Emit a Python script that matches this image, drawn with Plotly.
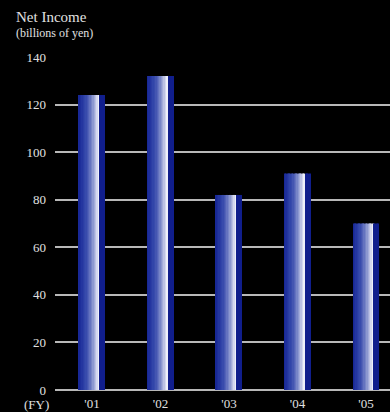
import plotly.graph_objects as go

years = ["'01", "'02", "'03", "'04", "'05"]
net_income = [124, 132, 82, 91, 70]
y_ticks = [0, 20, 40, 60, 80, 100, 120, 140]

xpos = list(range(len(years)))
W = 0.38
N = 19

def lerp(a, b, t):
    return tuple(round(a[k] + (b[k] - a[k]) * t) for k in range(3))

dark = (24, 40, 150)
mid = (50, 70, 170)
white = (238, 240, 250)
strip = (16, 30, 140)

colors = []
grad_n = 15
for i in range(N):
    if i < grad_n:
        t = i / (grad_n - 1)
        if t < 0.3:
            c = lerp(dark, mid, t / 0.3)
        else:
            c = lerp(mid, white, ((t - 0.3) / 0.7) ** 1.4)
    else:
        c = strip
    colors.append("rgb(%d,%d,%d)" % c)

fig = go.Figure()
for i, c in enumerate(colors):
    fig.add_trace(go.Bar(
        x=xpos, y=net_income, width=W / N, offset=-W / 2 + i * W / N,
        marker=dict(color=c, line=dict(width=0)), showlegend=False,
        hoverinfo="skip"))

font = "Liberation Serif, Times New Roman, serif"
fig.update_layout(
    barmode="overlay",
    width=390, height=412,
    margin=dict(l=55, r=0, t=57, b=22),
    paper_bgcolor="black", plot_bgcolor="black",
    font=dict(family=font, color="#e0e0e0", size=13),
    xaxis=dict(range=[-0.54, 4.35], tickvals=xpos, ticktext=years,
               showgrid=False, zeroline=False, showline=False, ticks="",
               ticklabelstandoff=4, tickfont=dict(size=13)),
    yaxis=dict(range=[0, 140], tickvals=y_ticks, showgrid=True,
               gridcolor="#b8b8b8", gridwidth=1.6, zeroline=True,
               zerolinecolor="#b8b8b8", zerolinewidth=1.6, showline=False,
               ticks="", ticklabelstandoff=8, tickfont=dict(size=13)),
    annotations=[
        dict(text="Net Income", xref="paper", yref="paper",
             x=-40 / 335, y=1 + 40 / 333, xanchor="left", yanchor="middle",
             showarrow=False, borderpad=0, font=dict(size=15, color="#e0e0e0")),
        dict(text="(billions of yen)", xref="paper", yref="paper",
             x=-40 / 335, y=1 + 24 / 333, xanchor="left", yanchor="middle",
             showarrow=False, borderpad=0, font=dict(size=12, color="#e0e0e0")),
        dict(text="(FY)", xref="paper", yref="paper",
             x=-4 / 335, y=-14 / 333, xanchor="right", yanchor="middle",
             showarrow=False, font=dict(size=13, color="#e0e0e0")),
    ],
)

fig.write_html("out.html")
